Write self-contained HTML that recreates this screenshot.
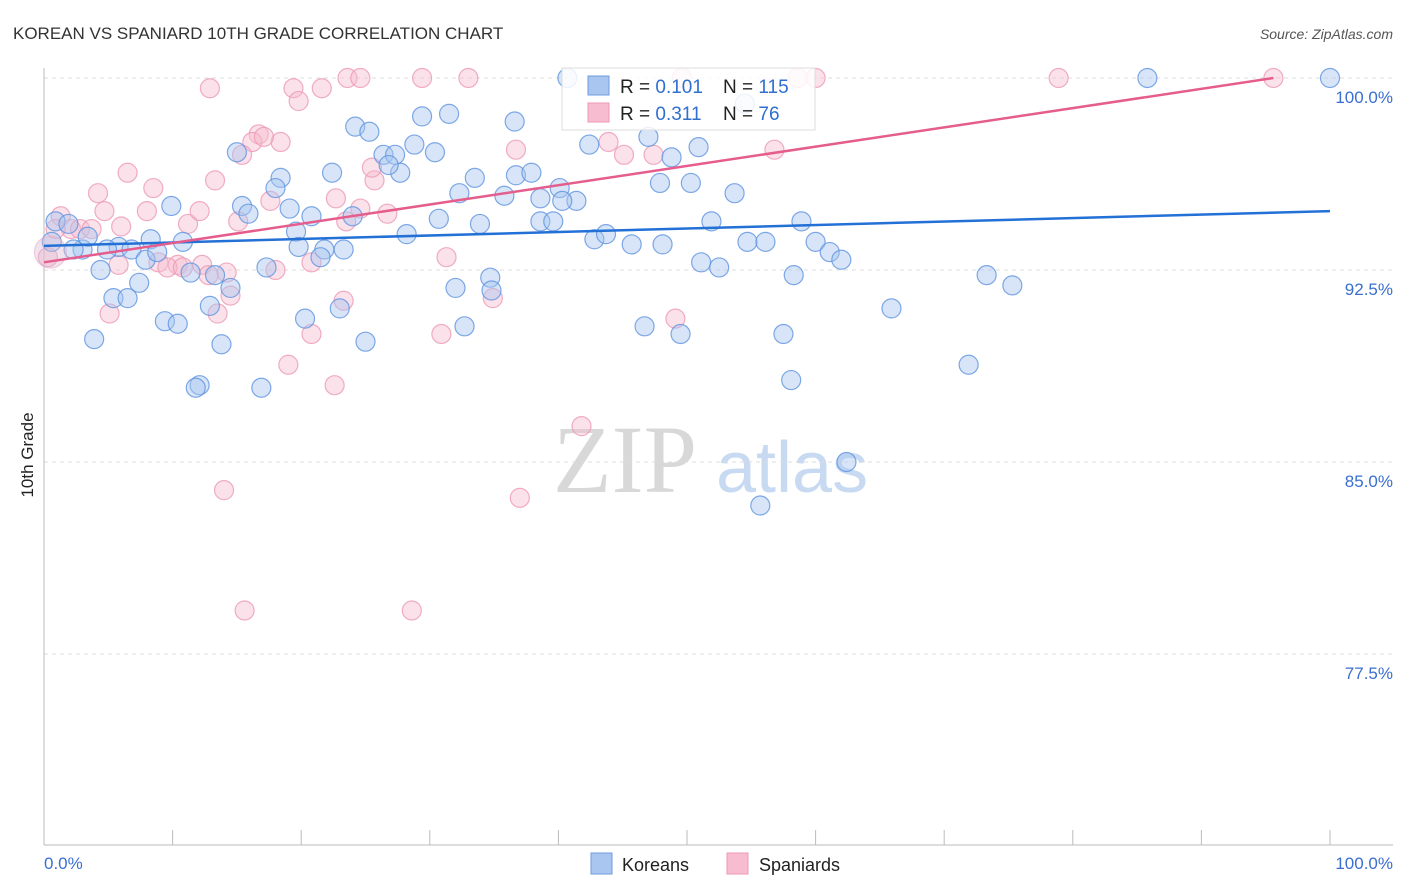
<!DOCTYPE html>
<html><head><meta charset="utf-8"><style>
body{margin:0;background:#fff;font-family:"Liberation Sans",sans-serif}
svg{display:block}
</style></head><body>
<svg id="c" width="1406" height="892" xmlns="http://www.w3.org/2000/svg">
<text x="13" y="39" font-size="17" fill="#333">KOREAN VS SPANIARD 10TH GRADE CORRELATION CHART</text>
<text x="1393" y="39" font-size="14" fill="#555" font-style="italic" text-anchor="end">Source: ZipAtlas.com</text>
<text transform="translate(33,455) rotate(-90)" font-size="17" fill="#222" text-anchor="middle">10th Grade</text>
<g>
<text x="553" y="492" font-size="96" fill="#d8d8d8" font-family="Liberation Serif,serif">ZIP</text>
<text x="716" y="492" font-size="72" fill="#c8daf2">atlas</text>
</g>
<g id="grid"></g><g id="axes"></g><g id="pts"></g><g id="trend"></g>
<g>
<rect x="562" y="68" width="253" height="62" fill="#fff" fill-opacity="0.85" stroke="#ddd"/>
<rect x="588" y="76" width="21" height="19" fill="#a9c6f0" stroke="#6e9be0"/>
<rect x="588" y="103" width="21" height="19" fill="#f7bccf" stroke="#ec9ab5"/>
<text x="620" y="93" font-size="19" fill="#222">R = <tspan fill="#2f6fd0">0.101</tspan></text>
<text x="723" y="93" font-size="19" fill="#222">N = <tspan fill="#2f6fd0">115</tspan></text>
<text x="620" y="120" font-size="19" fill="#222">R = <tspan fill="#2f6fd0"> 0.311</tspan></text>
<text x="723" y="120" font-size="19" fill="#222">N = <tspan fill="#2f6fd0">  76</tspan></text>
</g>
<g>
<rect x="591" y="853" width="21" height="21" fill="#a9c6f0" stroke="#6e9be0"/>
<text x="622" y="871" font-size="18" fill="#222">Koreans</text>
<rect x="727" y="853" width="21" height="21" fill="#f7bccf" stroke="#ec9ab5"/>
<text x="759" y="871" font-size="18" fill="#222">Spaniards</text>
</g>
</svg>
<script>
const yTicks=[100,92.5,85,77.5];
const yTickLabels=["100.0%","92.5%","85.0%","77.5%"];
const xTickLabels=["0.0%","100.0%"];
const koreanX=[100,85.8,31.5,29.4,24.2,25.3,15.0,30.4,26.4,27.3,28.8,27.7,26.8,22.4,18.4,18.0,9.9,15.4,19.1,20.8,15.9,19.6,24.0,19.8,21.8,23.3,21.5,10.8,8.3,5.8,6.8,4.9,3.0,0.9,0.6,1.9,3.4,2.3,4.4,7.9,8.8,11.4,13.3,17.3,7.4,5.4,6.5,12.9,14.5,9.4,10.4,3.9,13.8,20.3,23.0,25.0,12.1,11.8,16.9,28.2,30.7,32.3,33.5,33.9,35.8,36.7,37.9,36.6,40.1,38.6,41.4,40.3,38.6,39.6,42.4,47.0,48.8,50.9,47.9,50.3,53.7,51.9,42.8,43.7,45.7,48.1,54.7,56.1,51.1,52.5,60.0,61.1,62.0,58.9,58.3,73.3,75.3,34.7,34.8,32.0,32.7,46.7,49.5,57.5,65.9,71.9,58.1,62.4,55.7,54.5,40.7];
const koreanY=[100,100,98.6,98.5,98.1,97.9,97.1,97.1,97.0,97.0,97.4,96.3,96.6,96.3,96.1,95.7,95.0,95.0,94.9,94.6,94.7,94.0,94.6,93.4,93.3,93.3,93.0,93.6,93.7,93.4,93.3,93.3,93.3,94.4,93.6,94.3,93.8,93.3,92.5,92.9,93.2,92.4,92.3,92.6,92.0,91.4,91.4,91.1,91.8,90.5,90.4,89.8,89.6,90.6,91.0,89.7,88.0,87.9,87.9,93.9,94.5,95.5,96.1,94.3,95.4,96.2,96.3,98.3,95.7,95.3,95.2,95.2,94.4,94.4,97.4,97.7,96.9,97.3,95.9,95.9,95.5,94.4,93.7,93.9,93.5,93.5,93.6,93.6,92.8,92.6,93.6,93.2,92.9,94.4,92.3,92.3,91.9,92.2,91.7,91.8,90.3,90.3,90.0,90.0,91.0,88.8,88.2,85.0,83.3,99.0,100];
const spanX=[12.9,19.4,21.6,23.6,24.6,29.4,33.0,49.6,60.0,78.9,95.6,58.6,19.8,16.7,16.2,18.4,17.1,15.4,25.7,17.6,4.2,8.5,13.3,6.5,4.7,8.0,6.0,11.2,12.1,22.7,24.6,26.7,23.5,15.1,1.3,2.1,2.8,3.7,5.8,10.4,8.9,9.6,10.8,12.3,14.2,12.8,18.0,14.5,13.5,5.1,20.8,23.3,20.8,31.3,30.9,34.9,36.7,43.9,45.1,47.4,49.1,56.8,19.0,22.6,14.0,37.0,41.8,15.6,28.6,25.5,0.9,0.3];
const spanY=[99.6,99.6,99.6,100,100,100,100,100,100,100,100,100,99.1,97.8,97.5,97.5,97.7,97.0,96.0,95.2,95.5,95.7,96.0,96.3,94.8,94.8,94.2,94.3,94.8,95.3,94.9,94.7,94.4,94.4,94.6,94.1,94.1,94.1,92.7,92.7,92.8,92.6,92.6,92.7,92.4,92.3,92.5,91.5,90.8,90.8,92.8,91.3,90.0,93.0,90.0,91.4,97.2,97.5,97.0,97.0,90.6,97.2,88.8,88.0,83.9,83.6,86.4,79.2,79.2,96.5,94.1,93.0];
const koreanTrend=[93.44,94.8];
const spanTrend=[92.8,100.33];

const NS="http://www.w3.org/2000/svg";
const X0=44,X1=1330,YTOP=78,PXPER=25.6;
function sx(v){return X0+(X1-X0)*v/100;}
function sy(v){return YTOP+(100-v)*PXPER;}
function mk(tag,attrs,parent){const e=document.createElementNS(NS,tag);for(const k in attrs)e.setAttribute(k,attrs[k]);parent.appendChild(e);return e;}
const grid=document.getElementById('grid'),axes=document.getElementById('axes'),pts=document.getElementById('pts'),trend=document.getElementById('trend');
yTicks.forEach((t,i)=>{
  const l=mk('line',{x1:44,x2:1393,y1:sy(t),y2:sy(t),stroke:'#ddd','stroke-dasharray':'4,4'},grid);
  
  
  const tx=mk('text',{x:1393,y:sy(t)+25,'font-size':17,fill:'#3a6fd0','text-anchor':'end'},axes);
  tx.textContent=yTickLabels[i];
  
  
});
const ax=mk('line',{x1:44,x2:44,y1:68,y2:845,stroke:'#bbb'},axes);


const bx=mk('line',{x1:44,x2:1393,y1:845,y2:845,stroke:'#bbb'},axes);


for(let i=0;i<=10;i++){
  const tk=mk('line',{x1:sx(i*10),x2:sx(i*10),y1:830,y2:845,stroke:'#bbb'},axes);
  
  
}
const xl0=mk('text',{x:44,y:869,'font-size':17,fill:'#3a6fd0'},axes);xl0.textContent=xTickLabels[0];


const xl1=mk('text',{x:1393,y:869,'font-size':17,fill:'#3a6fd0','text-anchor':'end'},axes);xl1.textContent=xTickLabels[1];


function drawPts(xs,ys,fill,stroke,name){
  xs.forEach((x,i)=>{
    const c=mk('circle',{cx:sx(x),cy:sy(ys[i]),r:9.5,fill:fill,'fill-opacity':0.45,stroke:stroke,'stroke-opacity':0.8,'stroke-width':1.2},pts);
    
    
  });
}
drawPts(spanX,spanY,'#f7bccf','#ec9ab5','spaniard-point');
drawPts(koreanX,koreanY,'#a9c6f0','#5f93e0','korean-point');
const bc=mk('circle',{cx:sx(0.5),cy:sy(93.2),r:16,fill:'#d9b8d4','fill-opacity':0.4,stroke:'#e8a9c0','stroke-opacity':0.6},pts);


const t1=mk('line',{x1:sx(0),y1:sy(koreanTrend[0]),x2:sx(100),y2:sy(koreanTrend[1]),stroke:'#2370d6','stroke-width':2.5},trend);


const t2=mk('line',{x1:sx(0),y1:sy(spanTrend[0]),x2:sx(95.6),y2:sy(spanTrend[0]+(spanTrend[1]-spanTrend[0])*0.956),stroke:'#e55d8c','stroke-width':2.5},trend);


</script>
</body></html>
